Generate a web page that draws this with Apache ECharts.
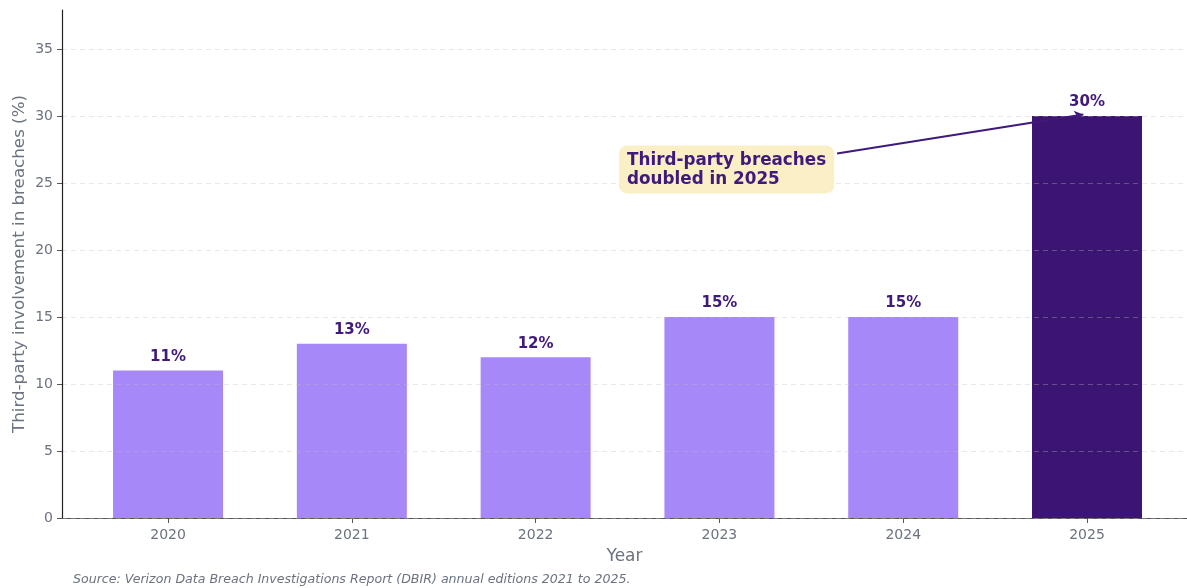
<!DOCTYPE html>
<html>
<head>
<meta charset="utf-8">
<script src="https://cdn.jsdelivr.net/npm/echarts@6/dist/echarts.min.js"></script>
<style>
  html, body { margin: 0; padding: 0; background: #fff; }
  #main { width: 1187px; height: 588px; }
</style>
</head>
<body>
<div id="main"></div>
<script>
// data
var years = ['2020', '2021', '2022', '2023', '2024', '2025'];
var shares = [11, 13, 12, 15, 15, 30];
var yTicks = [0, 5, 10, 15, 20, 25, 30, 35];
var xTicks = [0, 1, 2, 3, 4, 5];
var noteText = 'Third-party breaches\ndoubled in 2025';
var noteFrom = [3.64, 27.2];   // where the arrow leaves the note
var noteTo = [4.98, 30.1];     // arrow tip at top of 2025 bar

var light = '#a688f8';
var dark = '#3c1471';
var labelColor = '#3f1a7c';
var gray = '#6b7280';
var font = 'DejaVu Sans';

var myChart = echarts.init(document.getElementById('main'));

var barData = shares.map(function (v, i) {
    return {
        value: [i, v],
        itemStyle: { color: i === shares.length - 1 ? dark : light }
    };
});

myChart.setOption({
    animation: false,
    textStyle: { fontFamily: font },
    grid: { left: 62, right: 0, top: 10, bottom: 70, outerBoundsMode: 'none', containLabel: false },
    xAxis: {
        type: 'value',
        min: -0.577,
        max: 5.544,
        name: 'Year',
        nameLocation: 'middle',
        nameGap: 30,
        nameTextStyle: { color: gray, fontSize: 17, fontFamily: font },
        axisLine: { show: true, onZero: false, lineStyle: { color: '#555', width: 1.2 } },
        axisTick: { show: true, customValues: xTicks, length: 5, lineStyle: { color: '#555' } },
        axisLabel: {
            customValues: xTicks,
            color: gray, fontSize: 14, margin: 10, fontFamily: font,
            formatter: function (v) { return years[Math.round(v)]; }
        },
        splitLine: { show: false }
    },
    yAxis: {
        type: 'value',
        min: 0,
        max: 37.9,
        interval: 5,
        z: 3,
        name: 'Third-party involvement in breaches (%)',
        nameLocation: 'middle',
        nameGap: 34,
        nameMoveOverlap: false,
        nameTextStyle: { color: gray, fontSize: 16.7, fontFamily: font },
        axisLine: { show: true, onZero: false, lineStyle: { color: '#222', width: 1.2 } },
        axisTick: { show: true, customValues: yTicks, length: 5, lineStyle: { color: '#555' } },
        axisLabel: { customValues: yTicks, color: gray, fontSize: 14, margin: 9, fontFamily: font },
        splitLine: { show: true, lineStyle: { color: 'rgba(190,190,190,0.35)', type: [5, 4], width: 1 } }
    },
    series: [{
        type: 'bar',
        barWidth: 110,
        data: barData,
        label: {
            show: true,
            position: 'top',
            distance: 6,
            color: labelColor,
            fontWeight: 'bold',
            fontSize: 15,
            fontFamily: font,
            formatter: function (p) { return p.value[1] + '%'; }
        },
        markLine: {
            silent: true,
            symbol: ['none', 'arrow'],
            symbolSize: [8, 9],
            label: { show: false },
            lineStyle: { color: labelColor, width: 2, type: 'solid' },
            data: [[{ coord: noteFrom }, { coord: noteTo }]]
        }
    }],
    graphic: [{
        type: 'text',
        left: 73,
        top: 573,
        style: {
            text: 'Source: Verizon Data Breach Investigations Report (DBIR) annual editions 2021 to 2025.',
            fill: gray,
            fontFamily: font,
            fontSize: 12.6,
            fontStyle: 'italic'
        }
    }]
});

// note box placed from data coordinates
var p = myChart.convertToPixel({ gridIndex: 0 }, noteFrom);
myChart.setOption({
    graphic: [{}, {
        type: 'text',
        id: 'note',
        x: p[0] - 218,
        y: p[1] - 8,
        z: 10,
        style: {
            text: noteText,
            fill: labelColor,
            fontFamily: font,
            fontSize: 16.8,
            fontWeight: 'bold',
            lineHeight: 19,
            backgroundColor: '#fbefc6',
            borderRadius: 8,
            padding: [6, 8, 4, 8]
        }
    }]
});
</script>
</body>
</html>
